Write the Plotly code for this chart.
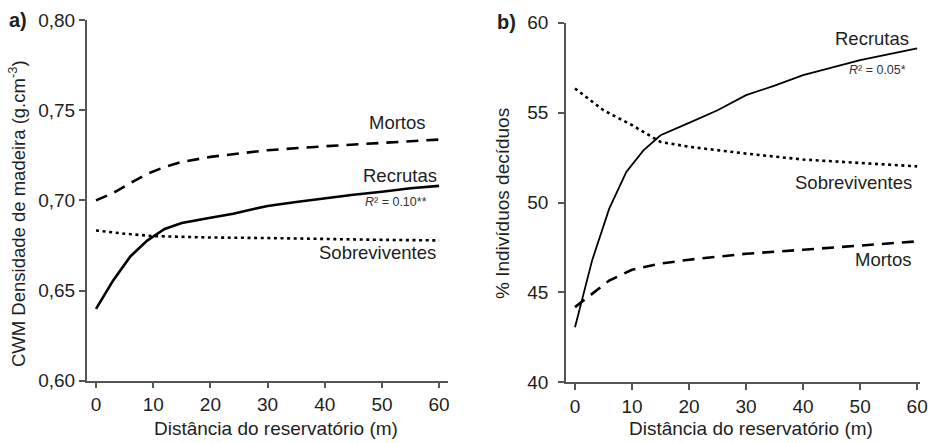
import plotly.graph_objects as go

# ---------------- data ----------------
# Panel a: CWM wood density (g.cm-3) vs distance from reservoir (m)
a_rec_x = [0, 3, 6, 9, 12, 15, 20, 24, 27, 30, 35, 40, 45, 50, 55, 60]
a_rec_y = [0.6398, 0.6556, 0.6689, 0.6778, 0.6841, 0.6874, 0.6904, 0.6926,
           0.6948, 0.6969, 0.6991, 0.7013, 0.7031, 0.7048, 0.7067, 0.7080]
a_mor_x = [0, 3, 6, 9, 12, 15, 20, 25, 30, 40, 50, 60]
a_mor_y = [0.7000, 0.7041, 0.7096, 0.7148, 0.7185, 0.7213, 0.7241, 0.7259,
           0.7278, 0.7300, 0.7319, 0.7337]
a_sob_x = [0, 5, 10, 20, 30, 40, 50, 60]
a_sob_y = [0.6833, 0.6815, 0.6802, 0.6794, 0.6791, 0.6785, 0.6781, 0.6778]

# Panel b: % deciduous individuals vs distance from reservoir (m)
b_rec_x = [0, 3, 6, 9, 12, 15, 20, 25, 30, 35, 40, 50, 60]
b_rec_y = [43.06, 46.78, 49.66, 51.70, 52.90, 53.74, 54.43, 55.13, 55.97,
           56.50, 57.08, 57.92, 58.57]
b_sob_x = [0, 5, 10, 15, 20, 30, 40, 50, 60]
b_sob_y = [56.34, 55.13, 54.30, 53.37, 53.10, 52.72, 52.39, 52.20, 52.01]
b_mor_x = [0, 3, 6, 10, 15, 20, 30, 40, 50, 60]
b_mor_y = [44.18, 44.92, 45.66, 46.26, 46.60, 46.82, 47.15, 47.37, 47.60, 47.84]

x_ticks = [0, 10, 20, 30, 40, 50, 60]
a_yticks = [0.60, 0.65, 0.70, 0.75, 0.80]
a_yticktext = ["0,60", "0,65", "0,70", "0,75", "0,80"]
b_yticks = [40, 45, 50, 55, 60]
b_yticktext = ["40", "45", "50", "55", "60"]

# ---------------- figure ----------------
W, H = 932, 443
FONT = "Liberation Sans, Arial, sans-serif"
TXT = "#1e1e1e"
AX = "#555555"

def px(x):
    return x / W

def py(y):
    return 1 - y / H

fig = go.Figure()

DASH = "12px,8px"
DOT = "3px,3.6px"

fig.add_trace(go.Scatter(x=a_mor_x, y=a_mor_y, mode="lines", xaxis="x", yaxis="y",
                         line=dict(color="black", width=2.6, dash=DASH)))
fig.add_trace(go.Scatter(x=a_sob_x, y=a_sob_y, mode="lines", xaxis="x", yaxis="y",
                         line=dict(color="black", width=2.6, dash=DOT)))
fig.add_trace(go.Scatter(x=a_rec_x, y=a_rec_y, mode="lines", xaxis="x", yaxis="y",
                         line=dict(color="black", width=2.6)))

fig.add_trace(go.Scatter(x=b_mor_x, y=b_mor_y, mode="lines", xaxis="x2", yaxis="y2",
                         line=dict(color="black", width=2.6, dash=DASH)))
fig.add_trace(go.Scatter(x=b_sob_x, y=b_sob_y, mode="lines", xaxis="x2", yaxis="y2",
                         line=dict(color="black", width=2.6, dash=DOT)))
fig.add_trace(go.Scatter(x=b_rec_x, y=b_rec_y, mode="lines", xaxis="x2", yaxis="y2",
                         line=dict(color="black", width=1.8)))

axis_common = dict(showgrid=False, zeroline=False, showline=True, linecolor=AX,
                   linewidth=1.5, ticks="outside", ticklen=6, tickwidth=1.5,
                   tickcolor=AX, automargin=False,
                   tickfont=dict(family=FONT, size=19, color=TXT))

fig.update_layout(
    template="none",
    width=W, height=H,
    margin=dict(l=0, r=0, t=0, b=0),
    paper_bgcolor="white", plot_bgcolor="white",
    showlegend=False,
    font=dict(family=FONT, size=19, color=TXT),
    xaxis=dict(domain=[px(86.7), px(447.7)], range=[-1.63, 61.5], anchor="y",
               tickvals=x_ticks, **axis_common),
    yaxis=dict(domain=[py(380.7), py(20)], range=[0.60, 0.80], anchor="x",
               tickvals=a_yticks, ticktext=a_yticktext, ticklabelstandoff=0,
               **axis_common),
    xaxis2=dict(domain=[px(566), px(920)], range=[-1.58, 60.5], anchor="y2",
                tickvals=x_ticks, **axis_common),
    yaxis2=dict(domain=[py(382.3), py(22.7)], range=[40, 60], anchor="x2",
                tickvals=b_yticks, ticktext=b_yticktext, ticklabelstandoff=6,
                **axis_common),
)

def ann(text, x, y, xanchor="center", size=19, angle=0, color=TXT):
    fig.add_annotation(text=text, x=px(x), y=py(y), xref="paper", yref="paper",
                       xanchor=xanchor, yanchor="middle", showarrow=False,
                       textangle=angle, font=dict(family=FONT, size=size, color=color))

# panel letters
ann("<b>a)</b>", 18, 20, size=20)
ann("<b>b)</b>", 507, 22, size=20)

# axis titles
ann("CWM Densidade de madeira (g.cm<sup>-3</sup>)", 17, 214, angle=-90, size=18.5)
ann("% Indivíduos decíduos", 502, 204, angle=-90)
ann("Distância do reservatório (m)", 276, 428)
ann("Distância do reservatório (m)", 751, 428)

# curve labels panel a
ann("Mortos", 428, 122, xanchor="right", size=18.5)
ann("Recrutas", 439, 175, xanchor="right", size=18.5)
ann("<i>R</i>² = 0.10**", 429, 202, xanchor="right", size=12.5, color="#333333")
ann("Sobreviventes", 438, 252, xanchor="right", size=18.5)

# curve labels panel b
ann("Recrutas", 911, 38, xanchor="right", size=18.5)
ann("<i>R</i>² = 0.05*", 908, 70, xanchor="right", size=12.5, color="#333333")
ann("Sobreviventes", 914, 182, xanchor="right", size=18.5)
ann("Mortos", 914, 259, xanchor="right", size=18.5)

fig.write_html("out.html")
